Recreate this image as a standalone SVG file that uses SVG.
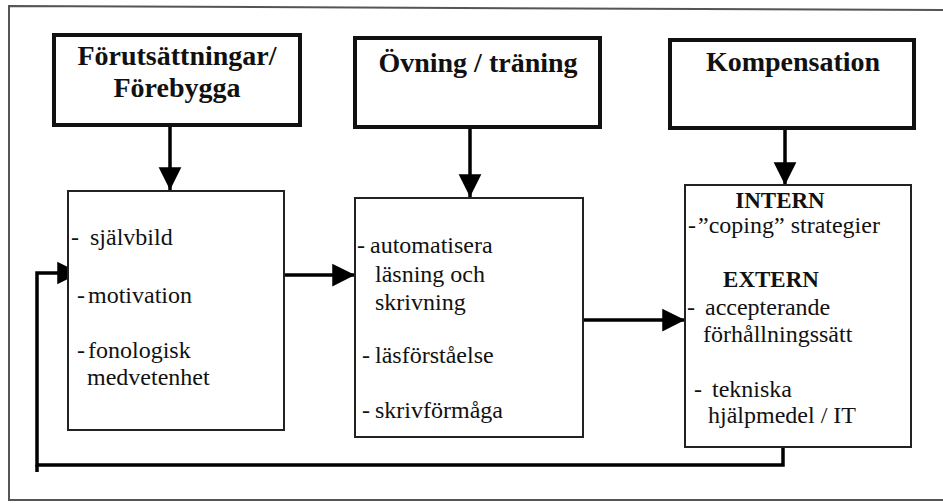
<svg xmlns="http://www.w3.org/2000/svg" width="943" height="503" viewBox="0 0 943 503">
<style>
text{font-family:'Liberation Serif','DejaVu Serif','Times New Roman',serif;fill:#111;}
.title{font-weight:bold;font-size:28px;}
.head{font-weight:bold;font-size:23px;}
.body{font-weight:normal;font-size:24px;}
.tbox{fill:#fff;stroke:#111;stroke-width:4;}
.lbox{fill:#fff;stroke:#222;stroke-width:2;}
.conn{fill:none;stroke:#000;stroke-width:3.5;}
</style>
<defs>
<marker id="ah" viewBox="0 0 10 10" refX="10" refY="5" markerWidth="6.5" markerHeight="7" markerUnits="strokeWidth" orient="auto">
<path d="M0,0 L10,5 L0,10 Z" fill="#000"/>
</marker>
</defs>
<rect width="943" height="503" fill="#fff"/>
<path d="M943,10 L9,6 L9,500 L943,500" fill="none" stroke="#555" stroke-width="2"/>

<g id="connectors">
<line class="conn" x1="170" y1="125" x2="170" y2="190" marker-end="url(#ah)"/>
<line class="conn" x1="470" y1="127" x2="470" y2="197" marker-end="url(#ah)"/>
<line class="conn" x1="785" y1="128" x2="785" y2="185" marker-end="url(#ah)"/>
<line class="conn" x1="284" y1="275" x2="355" y2="275" marker-end="url(#ah)"/>
<line class="conn" x1="583" y1="320" x2="685" y2="320" marker-end="url(#ah)"/>
<path class="conn" d="M783,447 L783,465 L37,465 L37,273 L80,273" marker-end="url(#ah)"/>
<line class="conn" x1="37" y1="465" x2="37" y2="472"/>
</g>

<g id="n-forutsattningar">
<rect class="tbox" x="54" y="35" width="246" height="90"/>
<text class="title" x="177" y="65" text-anchor="middle">Förutsättningar/</text>
<text class="title" x="177" y="97" text-anchor="middle">Förebygga</text>
</g>

<g id="n-ovning">
<rect class="tbox" x="355" y="38" width="245" height="89"/>
<text class="title" x="478" y="72" text-anchor="middle">Övning / träning</text>
</g>

<g id="n-kompensation">
<rect class="tbox" x="670" y="40" width="244" height="88"/>
<text class="title" x="793" y="71" text-anchor="middle">Kompensation</text>
</g>

<g id="n-forutsattningar-list">
<rect class="lbox" x="68" y="191" width="216" height="239"/>
<text class="body" y="245"><tspan x="71">-</tspan><tspan x="90">självbild</tspan></text>
<text class="body" y="303"><tspan x="77">-</tspan><tspan x="88">motivation</tspan></text>
<text class="body" y="358"><tspan x="77">-</tspan><tspan x="88">fonologisk</tspan></text>
<text class="body" x="87" y="385">medvetenhet</text>
</g>

<g id="n-ovning-list">
<rect class="lbox" x="355" y="198" width="228" height="239"/>
<text class="body" y="253"><tspan x="357">-</tspan><tspan x="370">automatisera</tspan></text>
<text class="body" x="375" y="282">läsning och</text>
<text class="body" x="375" y="310">skrivning</text>
<text class="body" y="363"><tspan x="362">-</tspan><tspan x="375">läsförståelse</tspan></text>
<text class="body" y="418"><tspan x="362">-</tspan><tspan x="375">skrivförmåga</tspan></text>
</g>

<g id="n-kompensation-list">
<rect class="lbox" x="685" y="185" width="226" height="262"/>
<text class="head" x="780" y="208" text-anchor="middle">INTERN</text>
<text class="body" y="233"><tspan x="688">-</tspan><tspan x="698">”coping” strategier</tspan></text>
<text class="head" x="771" y="287" text-anchor="middle">EXTERN</text>
<text class="body" y="315"><tspan x="687">-</tspan><tspan x="705">accepterande</tspan></text>
<text class="body" x="703" y="342">förhållningssätt</text>
<text class="body" y="397"><tspan x="694">-</tspan><tspan x="712">tekniska</tspan></text>
<text class="body" x="708" y="423">hjälpmedel / IT</text>
</g>
</svg>
